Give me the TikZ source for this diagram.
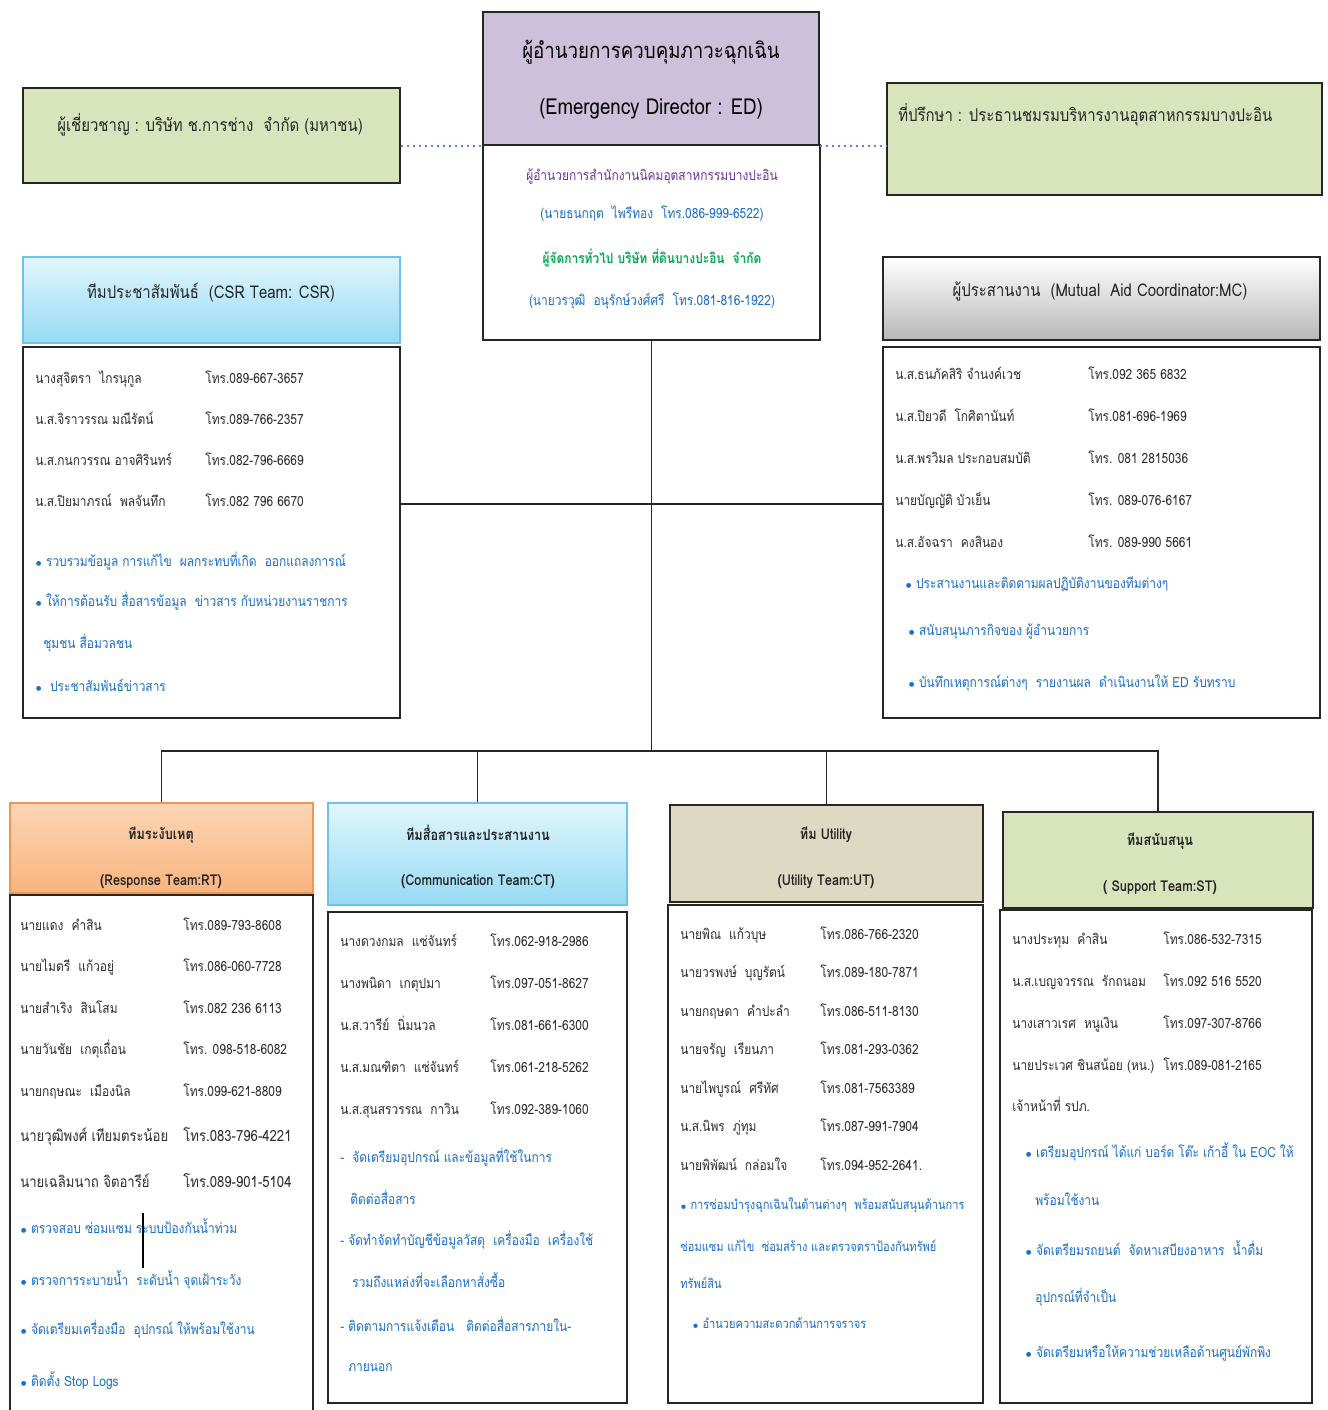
\documentclass[tikz,border=0pt]{standalone}
\usepackage{fontspec}
\setmainfont[Script=Thai]{Loma}
\newfontfamily\thn[Script=Thai,FakeStretch=0.85]{Loma}
\usetikzlibrary{positioning, fit, calc}

\definecolor{edlav}{RGB}{204,192,218}
\definecolor{olgreen}{RGB}{216,228,188}
\definecolor{cyantop}{RGB}{225,246,253}
\definecolor{cyanbot}{RGB}{150,218,242}
\definecolor{cyanline}{RGB}{110,195,230}
\definecolor{orgtop}{RGB}{252,214,182}
\definecolor{orgbot}{RGB}{249,180,125}
\definecolor{orgline}{RGB}{240,150,80}
\definecolor{tanfill}{RGB}{221,217,195}
\definecolor{bultext}{RGB}{25,110,200}
\definecolor{purptext}{RGB}{112,48,160}
\definecolor{greentext}{RGB}{0,170,80}
\definecolor{nametext}{RGB}{45,45,45}

\newcommand{\bul}{$\scriptstyle\bullet$\ }

\begin{document}
\begin{tikzpicture}[
    x=0.02cm, y=-0.02cm,
    box/.style={draw=black!85, line width=1.1pt, inner sep=0pt},
    body/.style={box, fill=white},
    edhd/.style={box, fill=edlav},
    sidebox/.style={box, fill=olgreen},
    cyanhd/.style={box, draw=cyanline, top color=cyantop, bottom color=cyanbot},
    grayhd/.style={box, top color=white, bottom color=black!28},
    orghd/.style={box, draw=orgline, top color=orgtop, bottom color=orgbot},
    tanhd/.style={box, fill=tanfill},
    greenhd/.style={box, fill=olgreen},
    hdtext/.style={inner sep=0pt, text=black!85, font=\thn\fontsize{10}{12}\selectfont},
    teamtext/.style={inner sep=0pt, align=center, text=black!85, font=\thn\bfseries\fontsize{8.5}{26}\selectfont},
    nm/.style={anchor=west, inner sep=0pt, text height=1.6ex, text depth=0.4ex, text=nametext, font=\thn\fontsize{8}{9}\selectfont},
    bigger/.style={font=\thn\fontsize{8.8}{10}\selectfont},
    bl/.style={nm, text=bultext},
    small/.style={font=\thn\fontsize{7.4}{9}\selectfont},
    edtx/.style={inner sep=0pt, text height=1.6ex, text depth=0.4ex, font=\thn\fontsize{8}{9}\selectfont},
    link/.style={line width=1.1pt, draw=black!85},
    dots/.style={line width=1.4pt, draw=cyanline!70!blue, dotted}
]
\useasboundingbox (0,0) rectangle (1328,1410);

% Top row
\node (edhead) [edhd, fit={(483,12) (819,145)}] {};
\node (edtitle) [inner sep=0pt, align=center, font=\thn\fontsize{12.5}{32}\selectfont] at (651,80) {ผู้อำนวยการควบคุมภาวะฉุกเฉิน\\(Emergency Director : ED)};
\node (edbody) [body, fit={(483,145) (820,340)}] {};
\node (expert) [sidebox, fit={(23,88) (400,183)}] {};
\node (advisor) [sidebox, fit={(887,83) (1322,195)}] {};
\node (experttx) [hdtext, anchor=west] at (57,125) {ผู้เชี่ยวชาญ : บริษัท ช.การช่าง \ จำกัด (มหาชน)};
\node (advisortx) [hdtext, anchor=west] at (898,115) {ที่ปรึกษา : ประธานชมรมบริหารงานอุตสาหกรรมบางปะอิน};

\node (ed1) [edtx, text=purptext] at (652,175) {ผู้อำนวยการสำนักงานนิคมอุตสาหกรรมบางปะอิน};
\node (ed2) [edtx, text=bultext] at (652,213) {(นายธนกฤต \ ไพรีทอง \ โทร.086-999-6522)};
\node (ed3) [edtx, text=greentext, font=\thn\bfseries\fontsize{8}{9}\selectfont] at (652,258) {ผู้จัดการทั่วไป บริษัท ที่ดินบางปะอิน \ จำกัด};
\node (ed4) [edtx, text=bultext] at (652,300) {(นายวรวุฒิ \ อนุรักษ์วงศ์ศรี \ โทร.081-816-1922)};

% Middle row
\node (csrhead) [cyanhd, fit={(23,257) (400,343)}] {};
\node (csrtx) [hdtext] at (211,293) {ทีมประชาสัมพันธ์ \ (CSR Team: CSR)};
\node (csrbody) [body, fit={(23,347) (400,718)}] {};
\node (mchead) [grayhd, fit={(883,257) (1320,340)}] {};
\node (mctx) [hdtext] at (1100,291) {ผู้ประสานงาน \ (Mutual \ Aid Coordinator:MC)};
\node (mcbody) [body, fit={(883,347) (1320,718)}] {};

\foreach \nam/\tel [count=\i from 0] in {นางสุจิตรา \ ไกรนุกูล/โทร.089-667-3657, น.ส.จิราวรรณ มณีรัตน์/โทร.089-766-2357, น.ส.กนกวรรณ อาจศิรินทร์/โทร.082-796-6669, น.ส.ปิยมาภรณ์ \ พลจันทึก/โทร.082 796 6670}
{
    \node (csrn\i) [nm] at (35,378+41*\i) {\nam};
    \node (csrp\i) [nm] at (205,378+41*\i) {\tel};
}
\foreach \xx/\yy/\tx [count=\i] in {35/561/{\bul รวบรวมข้อมูล การแก้ไข \ ผลกระทบที่เกิด \ ออกแถลงการณ์}, 35/601/{\bul ให้การต้อนรับ สื่อสารข้อมูล \ ข่าวสาร กับหน่วยงานราชการ}, 43/643/{ชุมชน สื่อมวลชน}, 35/686/{\bul \ ประชาสัมพันธ์ข่าวสาร}}
    \node (csrb\i) [bl] at (\xx,\yy) {\tx};

\foreach \nam/\tel [count=\i from 0] in {น.ส.ธนภัคสิริ จำนงค์เวช/โทร.092 365 6832, น.ส.ปิยวดี \ โกศิตานันท์/โทร.081-696-1969, น.ส.พรวิมล ประกอบสมบัติ/โทร. 081 2815036, นายบัญญัติ บัวเย็น/โทร. 089-076-6167, น.ส.อัจฉรา \ คงสินอง/โทร. 089-990 5661}
{
    \node (mcn\i) [nm] at (895,374+42*\i) {\nam};
    \node (mcp\i) [nm] at (1088,374+42*\i) {\tel};
}
\foreach \xx/\yy/\tx [count=\i] in {905/583/{\bul ประสานงานและติดตามผลปฏิบัติงานของทีมต่างๆ}, 908/630/{\bul สนับสนุนภารกิจของ ผู้อำนวยการ}, 908/682/{\bul บันทึกเหตุการณ์ต่างๆ \ รายงานผล \ ดำเนินงานให้ ED รับทราบ}}
    \node (mcb\i) [bl] at (\xx,\yy) {\tx};

% Connectors
\coordinate (hub) at ($(edbody.south)+(0,410)$);
\coordinate (mid) at ($(edbody.south)+(0,163)$);
\draw [link] (edbody.south) -- (hub);
\draw [link] (csrbody.east |- mid) -- (mcbody.west |- mid);
\draw [dots] (expert.east |- edhead.south) -- (edhead.south west);
\draw [dots] (edhead.south east) -- (advisor.west |- edhead.south);

% Bottom row
\node (rthead) [orghd, fit={(10,803) (313,893)}] {};
\node (rttx) [teamtext] at (161,858) {ทีมระงับเหตุ\\(Response Team:RT)};
\node (rtbody) [body, fit={(10,895) (313,1425)}] {};
\node (cthead) [cyanhd, fit={(328,803) (627,905)}] {};
\node (cttx) [teamtext] at (478,857) {ทีมสื่อสารและประสานงาน\\(Communication Team:CT)};
\node (ctbody) [body, fit={(328,912) (627,1403)}] {};
\node (uthead) [tanhd, fit={(670,805) (983,902)}] {};
\node (uttx) [teamtext] at (826,858) {ทีม Utility\\(Utility Team:UT)};
\node (utbody) [body, fit={(668,905) (983,1403)}] {};
\node (sthead) [greenhd, fit={(1003,812) (1313,908)}] {};
\node (sttx) [teamtext] at (1160,864) {ทีมสนับสนุน\\( Support Team:ST)};
\node (stbody) [body, fit={(1000,910) (1312,1403)}] {};

\draw [link] (rthead.north) -- (rthead.north |- hub) -- (sthead.north |- hub) -- (sthead.north);
\draw [link] (cthead.north) -- (cthead.north |- hub);
\draw [link] (uthead.north) -- (uthead.north |- hub);

% Response team
\foreach \nam/\tel [count=\i from 0] in {นายแดง \ คำสิน/โทร.089-793-8608, นายไมตรี \ แก้วอยู่/โทร.086-060-7728, นายสำเริง \ สินโสม/โทร.082 236 6113, นายวันชัย \ เกตุเถื่อน/โทร. 098-518-6082, นายกฤษณะ \ เมืองนิล/โทร.099-621-8809}
{
    \node (rtn\i) [nm] at (20,925+41.5*\i) {\nam};
    \node (rtp\i) [nm] at (183,925+41.5*\i) {\tel};
}
\node (rtn5) [nm, bigger] at (20,1136) {นายวุฒิพงศ์ เทียมตระน้อย};
\node (rtp5) [nm, bigger] at (183,1136) {โทร.083-796-4221};
\node (rtn6) [nm, bigger] at (20,1182) {นายเฉลิมนาถ จิตอารีย์};
\node (rtp6) [nm, bigger] at (183,1182) {โทร.089-901-5104};
\foreach \yy/\tx [count=\i] in {1228/{\bul ตรวจสอบ ซ่อมแซม ระบบป้องกันน้ำท่วม}, 1280/{\bul ตรวจการระบายน้ำ \ ระดับน้ำ จุดเฝ้าระวัง}, 1329/{\bul จัดเตรียมเครื่องมือ \ อุปกรณ์ ให้พร้อมใช้งาน}, 1381/{\bul ติดตั้ง Stop Logs}}
    \node (rtb\i) [bl] at (20,\yy) {\tx};
\coordinate (marktop) at (143,1213);
\coordinate (markbot) at (143,1268);
\draw [line width=0.8pt] (marktop) -- (markbot);

% Communication team
\foreach \nam/\tel [count=\i from 0] in {นางดวงกมล \ แซ่จันทร์/โทร.062-918-2986, นางพนิดา \ เกตุปมา/โทร.097-051-8627, น.ส.วารีย์ \ นิ่มนวล/โทร.081-661-6300, น.ส.มณฑิตา \ แซ่จันทร์/โทร.061-218-5262, น.ส.สุนสรวรรณ \ กาวิน/โทร.092-389-1060}
{
    \node (ctn\i) [nm] at (340,941+42*\i) {\nam};
    \node (ctp\i) [nm] at (490,941+42*\i) {\tel};
}
\foreach \xx/\yy/\tx [count=\i] in {340/1157/{- \ จัดเตรียมอุปกรณ์ และข้อมูลที่ใช้ในการ}, 350/1199/{ติดต่อสื่อสาร}, 340/1240/{- จัดทำจัดทำบัญชีข้อมูลวัสดุ \ เครื่องมือ \ เครื่องใช้}, 352/1282/{รวมถึงแหล่งที่จะเลือกหาสั่งซื้อ}, 340/1326/{- ติดตามการแจ้งเตือน \ \ ติดต่อสื่อสารภายใน-}, 348/1366/{ภายนอก}}
    \node (ctb\i) [bl] at (\xx,\yy) {\tx};

% Utility team
\foreach \nam/\tel [count=\i from 0] in {นายพิณ \ แก้วบุษ/โทร.086-766-2320, นายวรพงษ์ \ บุญรัตน์/โทร.089-180-7871, นายกฤษดา \ คำปะลำ/โทร.086-511-8130, นายจรัญ \ เรียนภา/โทร.081-293-0362, นายไพบูรณ์ \ ศรีทัศ/โทร.081-7563389, น.ส.นิพร \ ภู่ทุม/โทร.087-991-7904, นายพิพัฒน์ \ กล่อมใจ/โทร.094-952-2641.}
{
    \node (utn\i) [nm] at (680,934+38.5*\i) {\nam};
    \node (utp\i) [nm] at (820,934+38.5*\i) {\tel};
}
\foreach \xx/\yy/\tx [count=\i] in {680/1204/{\bul การซ่อมบำรุงฉุกเฉินในด้านต่างๆ \ พร้อมสนับสนุนด้านการ}, 680/1246/{ซ่อมแซม แก้ไข \ ซ่อมสร้าง และตรวจตราป้องกันทรัพย์}, 680/1283/{ทรัพย์สิน}, 692/1323/{\bul อำนวยความสะดวกด้านการจราจร}}
    \node (utb\i) [bl, small] at (\xx,\yy) {\tx};

% Support team
\foreach \nam/\tel [count=\i from 0] in {นางประทุม \ คำสิน/โทร.086-532-7315, น.ส.เบญจวรรณ \ รักถนอม/โทร.092 516 5520, นางเสาวเรศ \ หนูเงิน/โทร.097-307-8766, นายประเวศ ชินสน้อย (หน.)/โทร.089-081-2165}
{
    \node (stn\i) [nm] at (1012,939+42*\i) {\nam};
    \node (stp\i) [nm] at (1163,939+42*\i) {\tel};
}
\node (stn4) [nm] at (1012,1106) {เจ้าหน้าที่ รปภ.};
\foreach \xx/\yy/\tx [count=\i] in {1025/1152/{\bul เตรียมอุปกรณ์ ได้แก่ บอร์ด โต๊ะ เก้าอี้ ใน EOC ให้}, 1035/1200/{พร้อมใช้งาน}, 1025/1250/{\bul จัดเตรียมรถยนต์ \ จัดหาเสบียงอาหาร \ น้ำดื่ม}, 1035/1297/{อุปกรณ์ที่จำเป็น}, 1025/1352/{\bul จัดเตรียมหรือให้ความช่วยเหลือด้านศูนย์พักพิง}}
    \node (stb\i) [bl] at (\xx,\yy) {\tx};

\end{tikzpicture}
\end{document}
